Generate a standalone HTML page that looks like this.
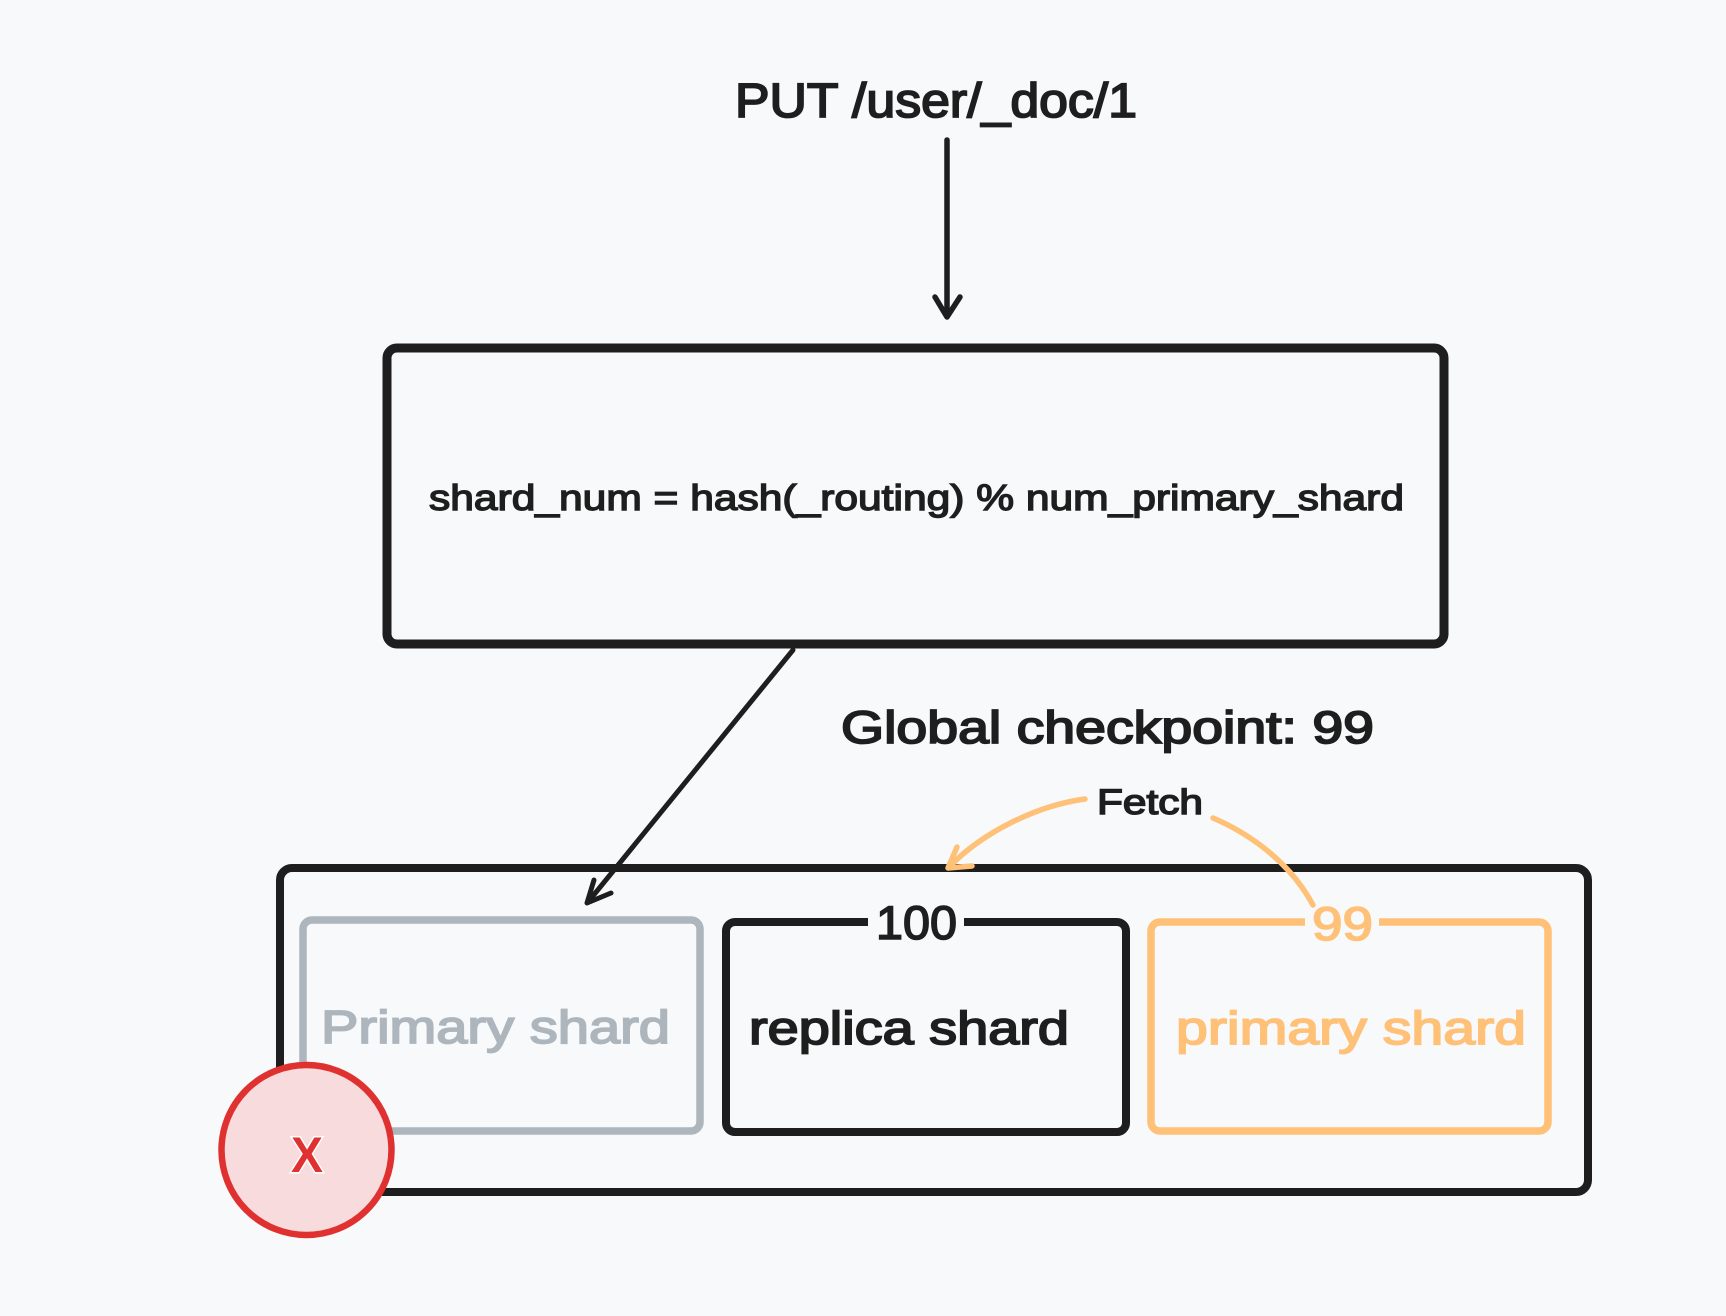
<!DOCTYPE html>
<html>
<head>
<meta charset="utf-8">
<style>
  html, body { margin: 0; padding: 0; background: #f8f9fa; }
  body { width: 1726px; height: 1316px; overflow: hidden; }
  svg { display: block; }
  text { font-family: "Liberation Sans", "DejaVu Sans", sans-serif; }
</style>
</head>
<body>
<svg width="1726" height="1316" viewBox="0 0 1726 1316" xmlns="http://www.w3.org/2000/svg">
  <rect x="0" y="0" width="1726" height="1316" fill="#f8f9fa"/>

  <!-- Title -->
  <text x="735" y="117" font-size="48" fill="#1e1e1e" stroke="#1e1e1e" stroke-width="1.8" textLength="402" lengthAdjust="spacingAndGlyphs">PUT /user/_doc/1</text>

  <!-- vertical arrow -->
  <g stroke="#1e1e1e" stroke-width="5.5" fill="none" stroke-linecap="round" stroke-linejoin="round">
    <line x1="947" y1="140" x2="947" y2="316"/>
    <polyline points="935,297 947,317 960,297"/>
  </g>

  <!-- top box -->
  <rect x="387" y="348" width="1057" height="296" rx="10" ry="10" fill="none" stroke="#1e1e1e" stroke-width="9"/>
  <text x="429" y="510" font-size="36" fill="#1e1e1e" stroke="#1e1e1e" stroke-width="1.4" textLength="975" lengthAdjust="spacingAndGlyphs">shard_num = hash(_routing) % num_primary_shard</text>

  <!-- diagonal arrow -->
  <g stroke="#1e1e1e" stroke-width="5" fill="none" stroke-linecap="round" stroke-linejoin="round">
    <line x1="793" y1="650" x2="588" y2="902"/>
    <polyline points="594,880 587,903 611,893"/>
  </g>

  <!-- Global checkpoint -->
  <text x="841" y="743" font-size="45" fill="#1e1e1e" stroke="#1e1e1e" stroke-width="1.8" textLength="533" lengthAdjust="spacingAndGlyphs">Global checkpoint: 99</text>

  <!-- outer container -->
  <rect x="280" y="868" width="1308" height="324" rx="12" ry="12" fill="none" stroke="#1e1e1e" stroke-width="8"/>

  <!-- Fetch curve (orange) -->
  <g stroke="#ffc078" stroke-width="5.5" fill="none" stroke-linecap="round" stroke-linejoin="round">
    <path d="M 1085 799 C 1040 805, 985 830, 949 867"/>
    <polyline points="957,847 948,868 972,866"/>
    <path d="M 1213 818 C 1255 836, 1292 866, 1313 905"/>
  </g>
  <text x="1097" y="814" font-size="35" fill="#1e1e1e" stroke="#1e1e1e" stroke-width="1.5" textLength="106" lengthAdjust="spacingAndGlyphs">Fetch</text>

  <!-- gray primary shard box -->
  <rect x="303" y="920" width="397" height="211" rx="9" ry="9" fill="none" stroke="#adb5bd" stroke-width="7.5"/>
  <text x="321" y="1043" font-size="46" fill="#adb5bd" stroke="#adb5bd" stroke-width="1.7" textLength="349" lengthAdjust="spacingAndGlyphs">Primary shard</text>

  <!-- replica box -->
  <rect x="726" y="922" width="400" height="210" rx="9" ry="9" fill="none" stroke="#1e1e1e" stroke-width="8"/>
  <rect x="868" y="910" width="96" height="24" fill="#f8f9fa"/>
  <text x="876" y="939" font-size="47" fill="#1e1e1e" stroke="#1e1e1e" stroke-width="1.6" textLength="81" lengthAdjust="spacingAndGlyphs">100</text>
  <text x="749" y="1044" font-size="46" fill="#1e1e1e" stroke="#1e1e1e" stroke-width="1.8" textLength="320" lengthAdjust="spacingAndGlyphs">replica shard</text>

  <!-- orange primary shard box -->
  <rect x="1151" y="922" width="397" height="209" rx="9" ry="9" fill="none" stroke="#ffc078" stroke-width="7.5"/>
  <rect x="1305" y="910" width="74" height="24" fill="#f8f9fa"/>
  <text x="1312" y="940" font-size="47" fill="#ffc078" stroke="#ffc078" stroke-width="1.6" textLength="61" lengthAdjust="spacingAndGlyphs">99</text>
  <text x="1176" y="1044" font-size="46" fill="#ffc078" stroke="#ffc078" stroke-width="1.7" textLength="350" lengthAdjust="spacingAndGlyphs">primary shard</text>

  <!-- red failure circle -->
  <circle cx="306.5" cy="1150" r="85" fill="#f8dbdc" stroke="#e03131" stroke-width="6.5"/>
  <text x="291" y="1172" font-size="50" font-weight="bold" fill="#e03131" stroke="#ffffff" stroke-width="3" paint-order="stroke" textLength="32" lengthAdjust="spacingAndGlyphs">X</text>
</svg>
</body>
</html>
